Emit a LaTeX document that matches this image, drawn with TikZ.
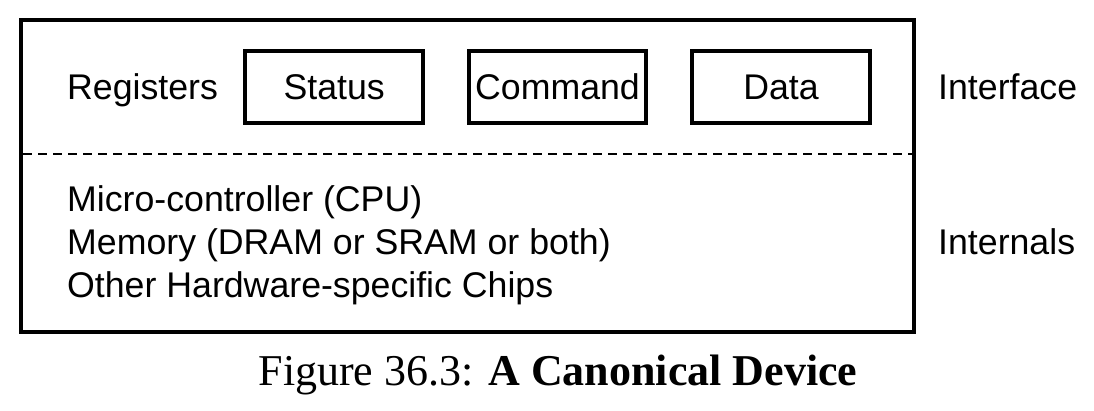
\documentclass[tikz,border=0pt]{standalone}
\usepackage{fontspec}
\setmainfont{Liberation Serif}
\setsansfont{Liberation Sans}
\begin{document}
\begin{tikzpicture}[x=1pt,y=-1pt,
  lbl/.style={font=\sffamily\fontsize{35.7}{42}\selectfont, inner sep=0pt},
  regbox/.style={draw, line width=4pt, minimum height=72pt, inner sep=0pt,
     text height=25.5pt, text depth=0pt,
     font=\sffamily\fontsize{35.7}{42}\selectfont},
  outerbox/.style={draw, line width=4pt, inner sep=0pt},
  divider/.style={line width=2.4pt, dash pattern=on 9pt off 6pt},
  capfont/.style={font=\fontsize{44}{52}\selectfont, inner sep=0pt}]
\useasboundingbox (0,0) rectangle (1094,411);
\node[outerbox, minimum width=893pt, minimum height=312pt] (device) at (467.5,176) {};
\coordinate (dl) at (23,154);
\coordinate (dr) at (912,154);
\draw[divider] (dl) -- (dr);
\node[lbl, anchor=base west] (registers) at (67,100) {Registers};
\node[regbox, minimum width=178.5pt] (status) at (334.2,87) {Status};
\node[regbox, minimum width=177pt] (command) at (557.5,87) {Command};
\node[regbox, minimum width=178pt] (data) at (781,87) {Data};
\node[lbl, anchor=base west] (interface) at (938,100) {Interface};
\node[lbl, anchor=base west] (micro) at (67,212) {Micro-controller (CPU)};
\node[lbl, anchor=base west] (memory) at (67,255) {Memory (DRAM or SRAM or both)};
\node[lbl, anchor=base west] (other) at (67,298) {Other Hardware-specific Chips};
\node[lbl, anchor=base west] (internals) at (938,255) {Internals};
\node[capfont, anchor=base] (caption) at (558,385) {Figure 36.3: \textbf{A Canonical Device}};
\end{tikzpicture}
\end{document}
